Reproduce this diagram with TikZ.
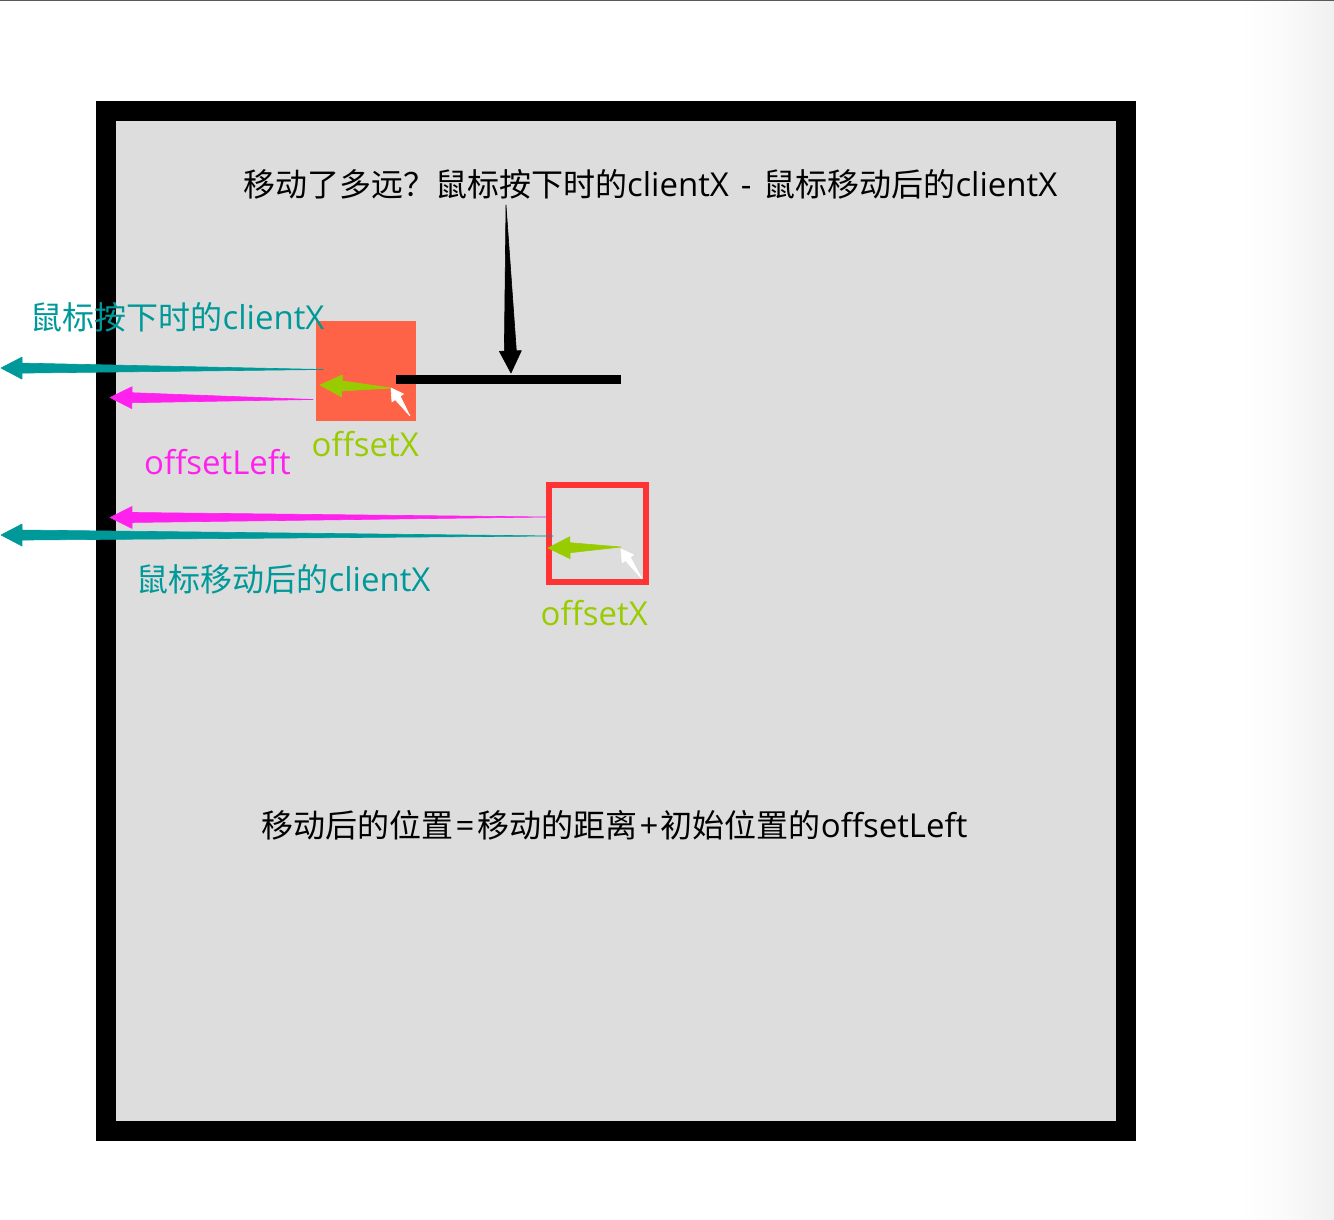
\documentclass[tikz,border=0pt]{standalone}
\usepackage{fontspec}
\setmainfont[Scale=1.03]{Open Sans}
\newfontfamily\cjk{Noto Sans CJK SC}
\usetikzlibrary{calc}
\definecolor{panelgray}{HTML}{DDDDDD}
\definecolor{tomatobox}{HTML}{FF6347}
\definecolor{redbox}{HTML}{FF3333}
\definecolor{tealarrow}{HTML}{009999}
\definecolor{pinkarrow}{HTML}{FF22EE}
\definecolor{greenarrow}{HTML}{99CC00}
\tikzset{
	label text/.style={anchor=west,inner sep=0pt,font=\fontsize{32}{32}\selectfont},
}
% tapered arrow: #1 colour, #2 tail, #3 tip, #4 shaft half width, #5 barb half width, #6 head length
\newcommand{\taperarrow}[6]{
	\filldraw[#1,line width=0.6pt,line join=round] (#2) -- ($(#3)!#6pt!(#2)!#4pt!90:(#3)$) -- ($(#3)!#6pt!(#2)!#5pt!90:(#3)$) -- (#3)
		-- ($(#3)!#6pt!(#2)!#5pt!-90:(#3)$) -- ($(#3)!#6pt!(#2)!#4pt!-90:(#3)$) -- cycle;
}

\begin{document}
\begin{tikzpicture}[x=1pt,y=-1pt]
	\useasboundingbox (0,0) rectangle (1334,1220);
	\fill[white] (0,0) rectangle (1334,1220);
	\shade[left color=white,right color=black!6,middle color=white!98!black] (1240,0) rectangle (1334,1220);
	\fill[black!65] (0,0) rectangle (1334,1);
	% panel
	\node[fill=panelgray,draw=black,line width=20pt,minimum size=1020pt,inner sep=0pt,outer sep=0pt] (panel) at (616,621) {};
	% start and end position
	\node[fill=tomatobox,minimum size=100pt,inner sep=0pt,outer sep=0pt] (startbox) at (366,371) {};
	\node[draw=redbox,line width=6pt,minimum size=97pt,inner sep=0pt,outer sep=0pt] (endbox) at (597.5,533.5) {};
	\fill[black] (396,375) rectangle (621,384);
	% named ends
	\coordinate (movetop) at (506,205);
	\coordinate (movetip) at (511,373);
	\coordinate (tealAtail) at (323,369.5);
	\coordinate (tealAtip) at (1,368);
	\coordinate (pinkAtail) at (313,399.5);
	\coordinate (pinkAtip) at (110,397.5);
	\coordinate (greenAtail) at (391,388);
	\coordinate (greenAtip) at (320,385);
	\coordinate (whiteAtail) at (410,416);
	\coordinate (whiteAtip) at (391,388);
	\coordinate (pinkBtail) at (547,517);
	\coordinate (pinkBtip) at (110,517.5);
	\coordinate (tealBtail) at (553,536);
	\coordinate (tealBtip) at (1,535);
	\coordinate (greenBtail) at (621,547);
	\coordinate (greenBtip) at (548,548);
	\coordinate (whiteBtail) at (642,579);
	\coordinate (whiteBtip) at (621,549);
	% arrows
	\taperarrow{black}{movetop}{movetip}{6}{11}{22}
	\taperarrow{tealarrow}{tealAtail}{tealAtip}{5}{11}{21}
	\taperarrow{pinkarrow}{pinkAtail}{pinkAtip}{5}{11}{22}
	\taperarrow{greenarrow}{greenAtail}{greenAtip}{5}{11}{22}
	\taperarrow{white}{whiteAtail}{whiteAtip}{3}{7}{12}
	\taperarrow{pinkarrow}{pinkBtail}{pinkBtip}{5}{11}{22}
	\taperarrow{tealarrow}{tealBtail}{tealBtip}{5}{11}{21}
	\taperarrow{greenarrow}{greenBtail}{greenBtip}{5}{11}{22}
	\taperarrow{white}{whiteBtail}{whiteBtip}{3}{7}{12}
	% labels
	\node[label text] (movetext) at (243,184) {{\cjk 移动了多远？鼠标按下时的}clientX\hspace{12pt}-\hspace{12pt}{\cjk 鼠标移动后的}clientX};
	\node[label text,text=tealarrow] (downtext) at (30.5,317) {{\cjk 鼠标按下时的}clientX};
	\node[label text,text=pinkarrow] (lefttext) at (144,462) {offsetLeft};
	\node[label text,text=greenarrow] (offsetA) at (311.5,444) {offsetX};
	\node[label text,text=tealarrow] (movedtext) at (136.5,579) {{\cjk 鼠标移动后的}clientX};
	\node[label text,text=greenarrow] (offsetB) at (540.5,613) {offsetX};
	\node[label text] (sumtext) at (261,825) {{\cjk 移动后的位置}\hspace{2.5pt}=\hspace{2.5pt}{\cjk 移动的距离}\hspace{2.5pt}+\hspace{2.5pt}{\cjk 初始位置的}offsetLeft};
\end{tikzpicture}
\end{document}
